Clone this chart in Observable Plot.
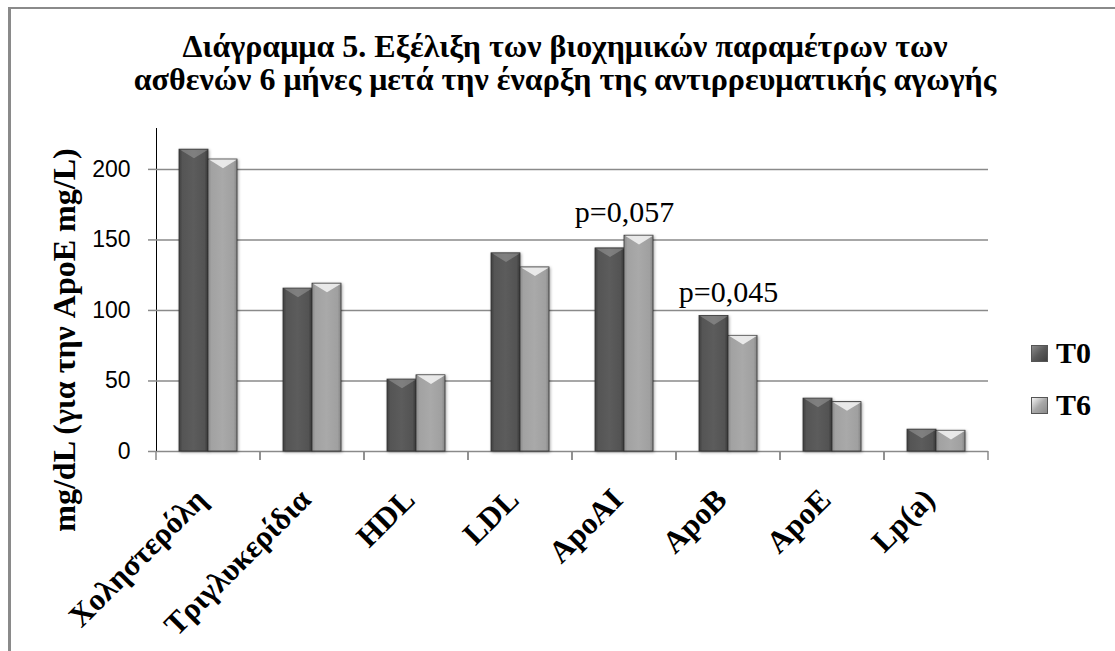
<!DOCTYPE html>
<html>
<head>
<meta charset="utf-8">
<script src="https://cdn.jsdelivr.net/npm/d3@7"></script>
<script src="https://cdn.jsdelivr.net/npm/@observablehq/plot@0.6"></script>
<style>
  html, body { margin: 0; padding: 0; background: #fff; overflow: hidden; }
  #wrap { position: relative; width: 1115px; height: 651px; overflow: hidden; background: #fff; }
  #border { position: absolute; left: 8px; top: 7px; width: 2000px; height: 2000px;
            border-left: 3px solid #8a8a8a; border-top: 2px solid #8a8a8a; box-sizing: border-box; }
  #title { position: absolute; left: 10px; width: 1110px; top: 30px; text-align: center;
           font-family: "Liberation Serif", "DejaVu Serif", serif; font-weight: bold;
           font-size: 32px; line-height: 33px; color: #000; }
  #chart { position: absolute; left: 0; top: 0; }
  #legend { position: absolute; left: 1031px; top: 334px; font-family: "Liberation Serif", serif;
            font-weight: bold; font-size: 30px; color: #000; }
  .lg-row { display: flex; align-items: center; height: 38px; margin-bottom: 14px; }
  .sw { width: 17px; height: 17px; margin-right: 8px; box-sizing: border-box; border: 1px solid #555; }
  [aria-label^="y-axis"] line, [aria-label^="y-axis"] path { stroke: #8a8a8a; stroke-width: 1.5px; }
  [aria-label^="y-axis"] text { fill: #000; }
  rect { filter: drop-shadow(1.5px 1.5px 1.5px rgba(0,0,0,0.35)); }
</style>
</head>
<body>
<svg width="0" height="0" style="position:absolute">
  <defs>
    <linearGradient id="gT0" x1="0" x2="1" y1="0" y2="0">
      <stop offset="0" stop-color="#3f3f3f"/>
      <stop offset="0.12" stop-color="#555"/>
      <stop offset="0.5" stop-color="#5c5c5c"/>
      <stop offset="0.88" stop-color="#535353"/>
      <stop offset="1" stop-color="#3a3a3a"/>
    </linearGradient>
    <linearGradient id="gT6" x1="0" x2="1" y1="0" y2="0">
      <stop offset="0" stop-color="#8a8a8a"/>
      <stop offset="0.12" stop-color="#a2a2a2"/>
      <stop offset="0.5" stop-color="#a9a9a9"/>
      <stop offset="0.88" stop-color="#a0a0a0"/>
      <stop offset="1" stop-color="#858585"/>
    </linearGradient>
  </defs>
</svg>
<div id="wrap">
  <div id="border"></div>
  <div id="title">Διάγραμμα 5. Εξέλιξη των βιοχημικών παραμέτρων των<br>ασθενών 6 μήνες μετά την έναρξη της αντιρρευματικής αγωγής</div>
  <div id="chart"></div>
  <div id="legend"></div>
</div>
<script>
// ---- data ----
const categories = ["Χοληστερόλη", "Τριγλυκερίδια", "HDL", "LDL", "ApoAI", "ApoB", "ApoE", "Lp(a)"];
const seriesNames = ["T0", "T6"];
const t0Values = [214, 115.5, 51, 140.5, 144, 96, 37.5, 15.5];
const t6Values = [207, 119, 54, 130.5, 153, 82, 35, 14.7];
const yTicks = [0, 50, 100, 150, 200];
const yTitle = "mg/dL (για την ApoE mg/L)";
const pCategories = ["ApoAI", "ApoB"];
const pLabels = ["p=0,057", "p=0,045"];

// ---- tables built from the arrays ----
const data = [];
categories.forEach((c, i) => {
  data.push({cat: c, series: seriesNames[0], value: t0Values[i]});
  data.push({cat: c, series: seriesNames[1], value: t6Values[i]});
});
const maxOf = c => { const i = categories.indexOf(c); return Math.max(t0Values[i], t6Values[i]); };
const pAnn = pCategories.map((c, i) => ({cat: c, label: pLabels[i], top: maxOf(c)}));

const serif = "Liberation Serif, DejaVu Serif, serif";

// bevel triangle symbol for bar tops
const bevel = {
  draw(ctx, size) {
    const r = Math.sqrt(size / Math.PI);
    ctx.moveTo(-r, 0); ctx.lineTo(r, 0); ctx.lineTo(0, r * 0.62); ctx.closePath();
  }
};

// category-boundary tick marks (drawn in each facet at its edges)
function boundaryTicks(index, scales, values, dimensions) {
  const g = d3.create("svg:g");
  const r = scales.x && scales.x.range ? scales.x.range() : [0, 0];
  const y0 = scales.y(0);
  for (const x of r) {
    g.append("line").attr("x1", x).attr("x2", x).attr("y1", y0).attr("y2", y0 + 9)
      .attr("stroke", "#8a8a8a").attr("stroke-width", 1.5);
  }
  return g.node();
}

const chart = Plot.plot({
  width: 1115,
  height: 651,
  marginLeft: 153,
  marginRight: 125,
  marginTop: 128,
  marginBottom: 200,
  style: {fontFamily: "Liberation Sans, Arial, sans-serif", fontSize: "23px", color: "#000", background: "transparent", overflow: "visible"},
  fx: {domain: categories, padding: 0, axis: null, label: null},
  x: {domain: seriesNames, paddingInner: 0, paddingOuter: 0.74, axis: null},
  y: {domain: [0, 229], ticks: yTicks, tickSize: 8, tickPadding: 18, line: true, label: null},
  color: {domain: seriesNames, range: ["url(#gT0)", "url(#gT6)"]},
  marks: [
    Plot.ruleY(yTicks, {stroke: "#8a8a8a", strokeWidth: 1.5}),
    boundaryTicks,
    Plot.barY(data, {fx: "cat", x: "series", y: "value", fill: "series", stroke: "#333", strokeWidth: 0.8}),
    Plot.dot(data.filter(d => d.series === "T0"), {fx: "cat", x: "series", y: "value", symbol: bevel, r: 14, fill: "white", fillOpacity: 0.22, stroke: "none"}),
    Plot.dot(data.filter(d => d.series === "T6"), {fx: "cat", x: "series", y: "value", symbol: bevel, r: 14, fill: "white", fillOpacity: 0.75, stroke: "none"}),
    Plot.text(pAnn, {fx: "cat", y: "top", text: "label", lineAnchor: "bottom", dy: -14, fontFamily: serif, fontSize: 30, fill: "#000"}),
    Plot.text(categories, {fx: d => d, text: d => d, frameAnchor: "bottom", rotate: -45, textAnchor: "end", lineAnchor: "middle", dx: -7, dy: 43, fontFamily: serif, fontWeight: "bold", fontSize: 31, fill: "#000"}),
    Plot.text([yTitle], {fx: () => categories[0], text: d => d, frameAnchor: "left", rotate: -90, lineAnchor: "middle", textAnchor: "middle", dx: -92, dy: 50, fontFamily: serif, fontWeight: "bold", fontSize: 32, fill: "#000"})
  ]
});
document.getElementById("chart").appendChild(chart);

// legend
const legend = document.getElementById("legend");
seriesNames.forEach((s, i) => {
  const row = document.createElement("div");
  row.className = "lg-row";
  const sw = document.createElement("div");
  sw.className = "sw";
  sw.style.background = i === 0
    ? "linear-gradient(135deg, #8a8a8a, #5a5a5a 50%, #404040)"
    : "linear-gradient(135deg, #f4f4f4, #a8a8a8 50%, #8a8a8a)";
  const tx = document.createElement("span");
  tx.textContent = s;
  row.appendChild(sw); row.appendChild(tx);
  legend.appendChild(row);
});
</script>
</body>
</html>
